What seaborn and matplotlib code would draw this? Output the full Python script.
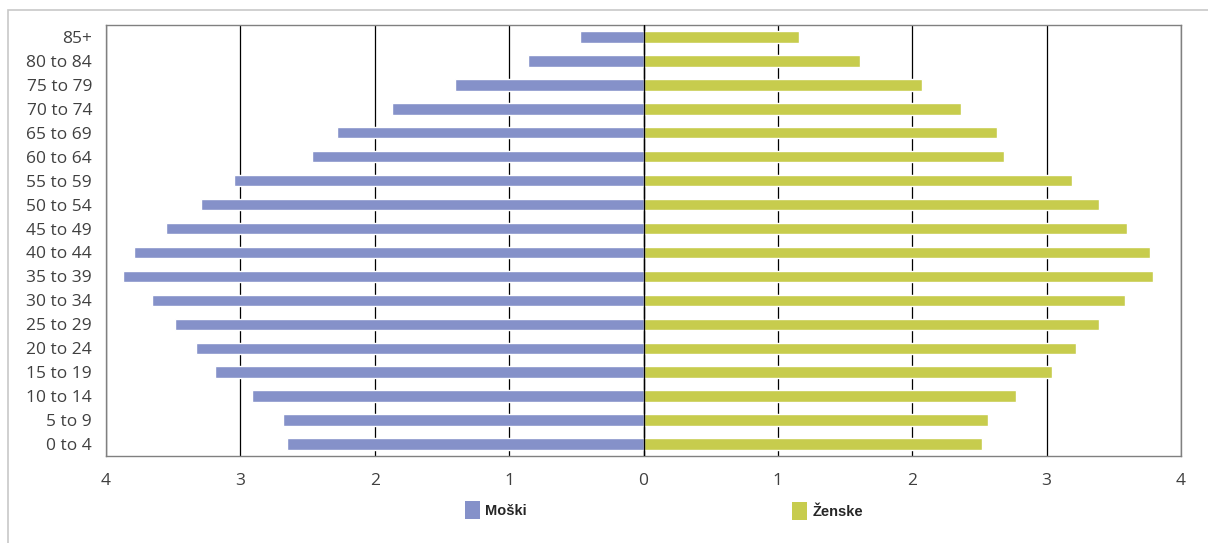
import matplotlib
matplotlib.use("Agg")
import matplotlib.pyplot as plt
import matplotlib.patches as mpatches
import seaborn as sns
import pandas as pd
import numpy as np
from matplotlib.ticker import FixedLocator, FuncFormatter

age_groups = ["85+", "80 to 84", "75 to 79", "70 to 74", "65 to 69", "60 to 64",
              "55 to 59", "50 to 54", "45 to 49", "40 to 44", "35 to 39", "30 to 34",
              "25 to 29", "20 to 24", "15 to 19", "10 to 14", "5 to 9", "0 to 4"]
male = [0.47, 0.86, 1.40, 1.87, 2.28, 2.47, 3.05, 3.29, 3.55, 3.79, 3.87, 3.66,
        3.49, 3.33, 3.19, 2.91, 2.68, 2.65]
female = [1.16, 1.61, 2.07, 2.36, 2.63, 2.68, 3.19, 3.39, 3.60, 3.77, 3.79, 3.58,
          3.39, 3.22, 3.04, 2.77, 2.56, 2.52]
series_names = ["Moški", "Ženske"]
x_ticks = [-4, -3, -2, -1, 0, 1, 2, 3, 4]

male_color = "#8591C9"
female_color = "#C7CC4D"

df = pd.DataFrame({
    "age": age_groups * 2,
    "value": [-m for m in male] + female,
    "sex": [series_names[0]] * len(male) + [series_names[1]] * len(female),
})

sns.set_style("white")
plt.rcParams["font.family"] = ["Open Sans", "DejaVu Sans"]

fig = plt.figure(figsize=(12.08, 5.43), dpi=100)
ax = fig.add_axes([106 / 1208, 1 - 456 / 543, (1181 - 106) / 1208, (456 - 25) / 543])

# outer light frame
fig.patches.append(mpatches.Rectangle((8 / 1208, -0.1), 1.2, 1 - 10 / 543 + 0.1,
                                      transform=fig.transFigure, fill=False,
                                      edgecolor="#C8C8C8", linewidth=1.2, zorder=0))

sns.barplot(data=df, y="age", x="value", hue="sex", order=age_groups,
            hue_order=series_names, palette=[male_color, female_color],
            dodge=False, width=0.48, orient="h", saturation=1, ax=ax, legend=False,
            zorder=3)

ax.set_xlim(-4, 4)
ax.set_ylim(len(age_groups) - 0.5, -0.5)
ax.xaxis.set_major_locator(FixedLocator(x_ticks))
ax.xaxis.set_major_formatter(FuncFormatter(lambda v, p: f"{abs(int(round(v)))}"))
ax.grid(axis="x", color="#000000", linewidth=0.9, zorder=1)
ax.grid(axis="y", visible=False)
ax.axvline(0, color="#000000", linewidth=1.0, zorder=4)
ax.set_xlabel("")
ax.set_ylabel("")
ax.tick_params(axis="y", length=0, pad=10, labelsize=12.5, labelcolor="#404040")
ax.tick_params(axis="x", length=0, pad=12, labelsize=12.5, labelcolor="#404040")
for s in ax.spines.values():
    s.set_visible(True)
    s.set_color("#808080")
    s.set_linewidth(1.0)

legend_font = {"family": "Liberation Sans", "weight": "bold", "size": 10.5}
colors = [male_color, female_color]
anchors = [(465 / 1208, 1 - 510 / 543), (792 / 1208, 1 - 511 / 543)]
for name, col, anc in zip(series_names, colors, anchors):
    h = mpatches.Patch(facecolor=col, edgecolor="none")
    fig.legend([h], [name], loc="center left", bbox_to_anchor=anc, frameon=False,
               borderpad=0, borderaxespad=0, handlelength=1.05, handleheight=1.5,
               handletextpad=0.35, prop=legend_font)

fig.savefig("out.png", dpi=100)
